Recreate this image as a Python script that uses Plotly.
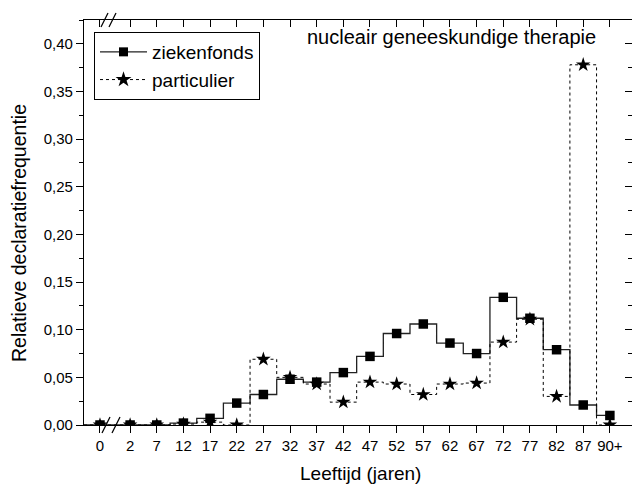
import plotly.graph_objects as go

# ---- data ----
age_labels = ["0", "2", "7", "12", "17", "22", "27", "32", "37", "42", "47",
              "52", "57", "62", "67", "72", "77", "82", "87", "90+"]
ziekenfonds = [0.000, 0.000, 0.000, 0.002, 0.007, 0.023, 0.032, 0.048, 0.045, 0.055,
               0.072, 0.096, 0.106, 0.086, 0.075, 0.134, 0.112, 0.079, 0.021, 0.010]
particulier = [0.000, 0.000, 0.000, 0.001, 0.003, 0.000, 0.069, 0.050, 0.043, 0.024,
               0.045, 0.043, 0.032, 0.043, 0.044, 0.087, 0.111, 0.030, 0.378, 0.000]

# ---- layout constants ----
W, H = 632, 485
ML, MR, MT, MB = 84, 0, 20, 60
BREAK_GAP = 1.13          # wider spacing across the axis break (0 -> 2)
X_LEFT, X_RIGHT = -0.6, 19.96
Y_MAX = 0.425
END_EXT = 0.15
FONT = "Liberation Sans, Arial, sans-serif"

pos = [0.0] + [BREAK_GAP + k for k in range(len(age_labels) - 1)]


def px_x(p):
    return (p - ML) / (W - ML - MR)


def px_y(p):
    return (H - MB - p) / (H - MT - MB)


def step_xy(vals):
    xs = [X_LEFT] + pos + [pos[-1] + END_EXT]
    ys = [vals[0]] + list(vals) + [vals[-1]]
    return xs, ys


fig = go.Figure()

zx, zy = step_xy(ziekenfonds)
px_, py_ = step_xy(particulier)

fig.add_trace(go.Scatter(x=zx, y=zy, mode="lines", line=dict(shape="hvh", color="#222", width=1.3),
                         showlegend=False, hoverinfo="skip"))
fig.add_trace(go.Scatter(x=px_, y=py_, mode="lines",
                         line=dict(shape="hvh", color="black", width=1, dash="dot"),
                         showlegend=False, hoverinfo="skip"))
fig.add_trace(go.Scatter(x=pos, y=ziekenfonds, mode="markers",
                         marker=dict(symbol="square", size=9.5, color="black"),
                         showlegend=False, name="ziekenfonds"))
fig.add_trace(go.Scatter(x=pos, y=particulier, mode="markers",
                         marker=dict(symbol="star", size=11, color="black", line=dict(width=0)),
                         showlegend=False, name="particulier"))
# legend entries
fig.add_trace(go.Scatter(x=[None], y=[None], mode="lines+markers", name="ziekenfonds",
                         line=dict(color="#222", width=1.3),
                         marker=dict(symbol="square", size=9, color="black")))
fig.add_trace(go.Scatter(x=[None], y=[None], mode="lines+markers", name="particulier",
                         line=dict(color="black", width=1, dash="dot"),
                         marker=dict(symbol="star", size=12, color="black")))

axis_common = dict(showgrid=False, zeroline=False, showline=True, linecolor="black",
                   linewidth=1.3, tickcolor="black", tickwidth=1.3, ticklen=7)

fig.update_layout(
    width=W, height=H,
    margin=dict(l=ML, r=MR, t=MT, b=MB),
    paper_bgcolor="white", plot_bgcolor="white",
    separators=",.",
    font=dict(family=FONT, color="black"),
    xaxis=dict(range=[X_LEFT, X_RIGHT], tickmode="array", tickvals=pos, ticktext=age_labels,
               ticks="outside", tickangle=0, tickfont=dict(size=15), **axis_common),
    xaxis2=dict(range=[X_LEFT, X_RIGHT], overlaying="x", side="top", tickmode="array",
                tickvals=pos, ticks="inside", showticklabels=False, **axis_common),
    yaxis=dict(range=[0, Y_MAX], tick0=0, dtick=0.05, tickformat=".2f", ticks="outside",
               tickfont=dict(size=15),
               minor=dict(dtick=0.025, ticks="outside", ticklen=4, tickcolor="black", tickwidth=1.3),
               **axis_common),
    yaxis2=dict(range=[0, Y_MAX], overlaying="y", side="right", tick0=0, dtick=0.05,
                ticks="inside", showticklabels=False,
                minor=dict(dtick=0.025, ticks="inside", ticklen=4, tickcolor="black", tickwidth=1.3),
                **axis_common),
    legend=dict(x=px_x(94), y=px_y(32), xanchor="left", yanchor="top",
                bordercolor="black", borderwidth=1, bgcolor="white",
                font=dict(size=19, family=FONT), tracegroupgap=0, itemwidth=47),
    showlegend=True,
)

# dummy trace to activate the mirror axes
fig.add_trace(go.Scatter(x=[None], y=[None], xaxis="x2", yaxis="y2", showlegend=False))

fig.add_annotation(text="nucleair geneeskundige therapie", xref="paper", yref="paper",
                   x=px_x(451), y=px_y(37), xanchor="center", yanchor="middle",
                   showarrow=False, font=dict(size=20, family=FONT))
fig.add_annotation(text="Relatieve declaratiefrequentie", xref="paper", yref="paper",
                   x=px_x(19), y=px_y(233), xanchor="center", yanchor="middle", textangle=-90,
                   showarrow=False, font=dict(size=19.5, family=FONT))
fig.add_annotation(text="Leeftijd (jaren)", xref="paper", yref="paper",
                   x=px_x(360), y=px_y(474), xanchor="center", yanchor="middle",
                   showarrow=False, font=dict(size=19, family=FONT))

# axis break marks
for (x0, y0, x1, y1) in [(102, 433, 110, 417), (112, 433, 120, 417),
                         (101, 27, 108, 13), (109, 27, 116, 13)]:
    fig.add_shape(type="line", xref="paper", yref="paper",
                  x0=px_x(x0), y0=px_y(y0), x1=px_x(x1), y1=px_y(y1),
                  line=dict(color="black", width=1.3))

fig.write_html("out.html")
